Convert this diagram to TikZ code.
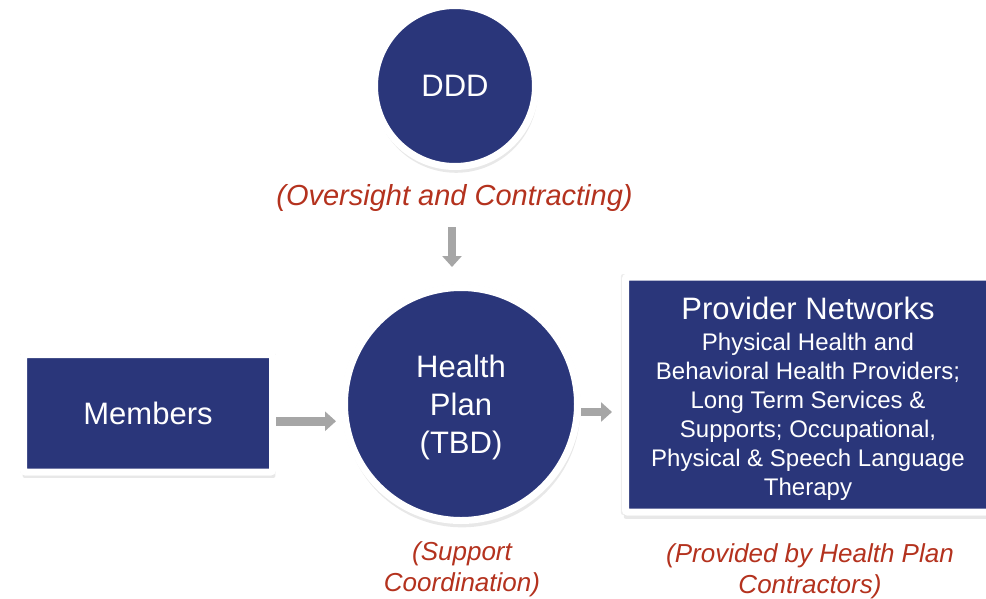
\documentclass[tikz,border=0pt]{standalone}
\usepackage{fontspec}
\setmainfont{Liberation Sans}
\usetikzlibrary{arrows.meta,shadows}
\definecolor{navy}{RGB}{42,54,122}
\definecolor{redtxt}{RGB}{180,50,30}
\definecolor{arrowgray}{RGB}{166,166,166}
\tikzset{
  softshadow/.style={
    drop shadow={opacity=0.07,shadow xshift=0pt,shadow yshift=0pt,shadow scale=1.025,fill=black},
    drop shadow={opacity=0.09,shadow xshift=1pt,shadow yshift=-5pt,shadow scale=1.015,fill=black},
    drop shadow={opacity=0.12,shadow xshift=0.5pt,shadow yshift=-3pt,fill=black}},
  bluecircle/.style={circle,fill=navy,draw=white,line width=7pt,inner sep=0pt,text=white,align=center,softshadow},
  bluebox/.style={rectangle,fill=navy,draw=white,line width=7pt,rounded corners=2pt,inner sep=0pt,text=white,align=center,softshadow},
  redlabel/.style={text=redtxt,align=center,inner sep=0pt,font=\itshape\fontsize{26}{31}\selectfont},
  blockarrow/.style={draw=arrowgray,line width=8.5pt,-{Triangle[length=11pt,width=19pt]}},
}
\begin{document}
\begin{tikzpicture}[x=1pt,y=-1pt]
\clip (0,0) rectangle (986,598);
\fill[white] (0,0) rectangle (986,598);

\node[bluecircle,minimum size=161pt,font=\fontsize{31}{37}\selectfont] (ddd) at (455,86) {DDD};
\node[bluecircle,minimum size=233pt,font=\fontsize{31}{38}\selectfont] (hp) at (461,404) {\rule{0pt}{29pt}Health\\Plan\\(TBD)};
\node[bluebox,minimum width=249pt,minimum height=117.5pt,font=\fontsize{31}{37}\selectfont] (mem) at (148,413.25) {Members};
\node[bluebox,minimum width=365pt,minimum height=235pt,font=\fontsize{24}{29}\selectfont] (prov) at (808,394.5)
  {\fontsize{31}{31}\selectfont \rule{0pt}{31pt}Provider Networks\\[2pt]
   \fontsize{24}{28.5}\selectfont Physical Health and\\
   Behavioral Health Providers;\\
   Long Term Services \&\\
   Supports; Occupational,\\
   Physical \& Speech Language\\
   Therapy};

\node[redlabel,font=\itshape\fontsize{29}{34}\selectfont,anchor=base] (ddlab) at (454.5,205) {(Oversight and Contracting)};
\node[redlabel,anchor=base] (hplab) at (462,591) {(Support\\Coordination)};
\node[redlabel,anchor=base] (provlab) at (810,593) {(Provided by Health Plan\\Contractors)};

\draw[blockarrow,shorten <=16pt,shorten >=17pt] ([xshift=-2.5pt]ddlab.south) -- ([xshift=-2.5pt]ddlab.south |- hp.north);
\draw[blockarrow,shorten >=5pt] ([yshift=-8pt]mem.east) -- ([yshift=-8pt]mem.east -| hp.west);
\draw[blockarrow,shorten >=10pt] ([yshift=-8pt]hp.east) -- ([yshift=-8pt]hp.east -| prov.west);
\end{tikzpicture}
\end{document}
